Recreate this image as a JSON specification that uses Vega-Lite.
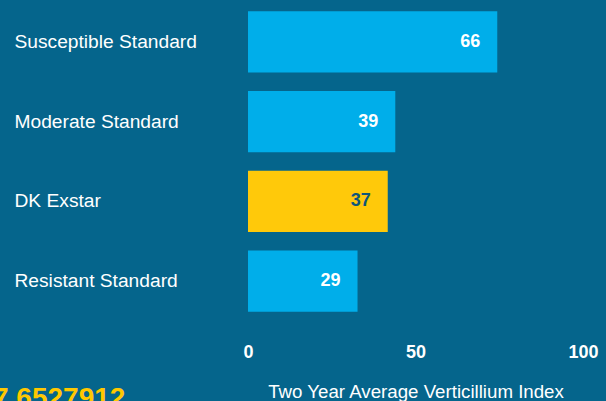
{
  "$schema": "https://vega.github.io/schema/vega-lite/v6.json",
  "autosize": {"type": "none"},
  "width": 335,
  "height": 319,
  "padding": {"left": 248, "top": 2, "right": 23, "bottom": 80},
  "background": "#05658c",
  "config": {
    "view": {"stroke": null},
    "font": "Liberation Sans"
  },
  "title": {
    "text": "7 6527912",
    "orient": "bottom",
    "anchor": "start",
    "frame": "bounds",
    "fontSize": 28,
    "fontWeight": "bold",
    "color": "#ffc800",
    "dx": -21,
    "offset": -16
  },
  "data": {
    "values": [
      {"variety": "Susceptible Standard", "index": 66},
      {"variety": "Moderate Standard", "index": 39},
      {"variety": "DK Exstar", "index": 37},
      {"variety": "Resistant Standard", "index": 29}
    ]
  },
  "encoding": {
    "y": {
      "field": "variety",
      "type": "nominal",
      "sort": null,
      "scale": {"paddingInner": 0.235, "paddingOuter": 0.1175},
      "axis": {
        "title": null,
        "domain": false,
        "ticks": false,
        "tickSize": 0,
        "labelAlign": "left",
        "labelPadding": 234,
        "labelFontSize": 19.2,
        "labelColor": "#ffffff",
        "labelLimit": 300
      }
    },
    "x": {
      "field": "index",
      "type": "quantitative",
      "scale": {"domain": [0, 88.7], "nice": false},
      "axis": {
        "title": "Two Year Average Verticillium Index",
        "titleFontSize": 18.7,
        "titleFontWeight": "normal",
        "titleColor": "#ffffff",
        "titlePadding": 21,
        "values": [0, 44.35, 88.7],
        "labelExpr": "datum.value == 0 ? '0' : datum.value < 50 ? '50' : '100'",
        "labelFlush": false,
        "labelFontSize": 18,
        "labelFontWeight": "bold",
        "labelColor": "#ffffff",
        "labelPadding": 22,
        "domain": false,
        "ticks": false,
        "tickSize": 0,
        "grid": false
      }
    }
  },
  "layer": [
    {
      "mark": {"type": "bar"},
      "encoding": {
        "color": {
          "condition": {"test": "datum.variety === 'DK Exstar'", "value": "#ffc90a"},
          "value": "#00aeea"
        }
      }
    },
    {
      "mark": {"type": "text", "align": "right", "baseline": "middle", "dx": -17, "fontSize": 18, "fontWeight": "bold"},
      "encoding": {
        "text": {"field": "index", "type": "quantitative"},
        "color": {
          "condition": {"test": "datum.variety === 'DK Exstar'", "value": "#0f5679"},
          "value": "#ffffff"
        }
      }
    }
  ]
}
